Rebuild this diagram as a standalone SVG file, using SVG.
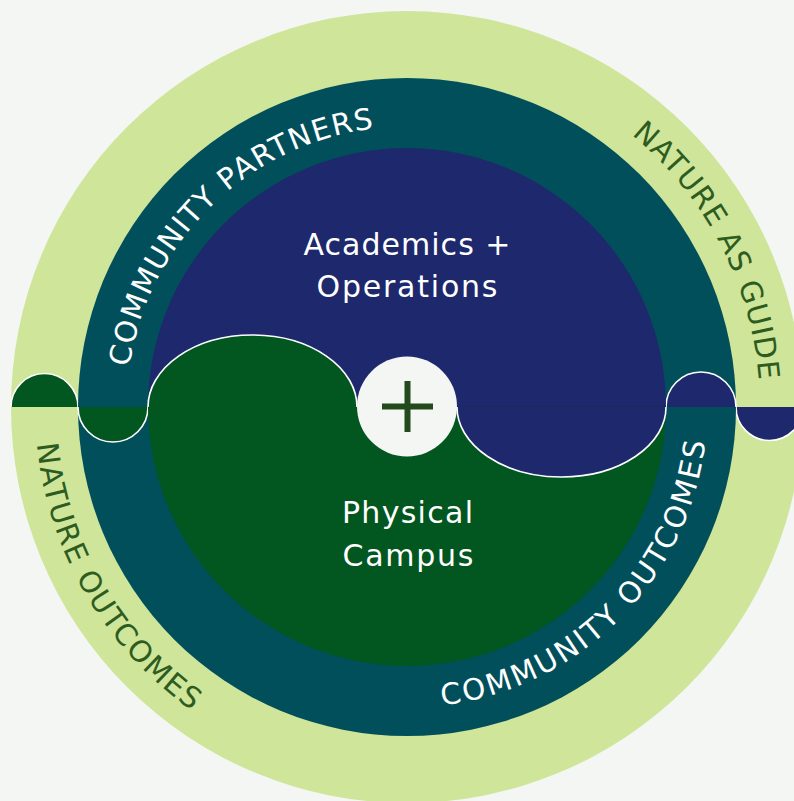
<svg xmlns="http://www.w3.org/2000/svg" width="794" height="801" viewBox="0 0 794 801">
<style>
.ringtxt{font-family:"DejaVu Sans","Noto Sans",sans-serif;font-size:29.5px;text-anchor:middle}
.light{fill:#ffffff}
.dark{fill:#2e5c1f}
.core{font-family:"DejaVu Sans","Noto Sans",sans-serif;font-size:30px;fill:#ffffff;text-anchor:middle}
.edge{fill:none;stroke:#ffffff;stroke-width:1.6}
.green{fill:#02561f}
.navy{fill:#1e286c}
</style>
<defs>
<path id="pPartners" d="M 190.3 584.4 A 280 280 0 0 1 589.6 194.7"/>
<path id="pGuide" d="M 272.2 80.8 A 353 353 0 0 1 596.4 704.9"/>
<path id="pNatOut" d="M 192.6 103.0 A 372 372 0 0 0 565.4 743.6"/>
<path id="pComOut" d="M 214.3 637.0 A 300 300 0 0 0 636.7 214.0"/>
</defs>
<rect width="794" height="801" fill="#f4f6f3"/>

<g id="nature-ring">
<circle cx="407" cy="407" r="396" fill="#cfe59a"/>
<path class="green" d="M 11 407 A 33.5 33.5 0 0 1 78 407 Z"/>
<path class="edge" d="M 11 407 A 33.5 33.5 0 0 1 78 407"/>
<path class="navy" d="M 736 407 A 33.5 33.5 0 0 0 803 407 Z"/>
<path class="edge" d="M 736 407 A 33.5 33.5 0 0 0 803 407"/>
<text class="ringtxt dark"><textPath href="#pGuide" startOffset="50%" textLength="284" lengthAdjust="spacing">NATURE AS GUIDE</textPath></text>
<text class="ringtxt dark"><textPath href="#pNatOut" startOffset="50%" textLength="318" lengthAdjust="spacing">NATURE OUTCOMES</textPath></text>
</g>

<g id="community-ring">
<circle cx="407" cy="407" r="329" fill="#024f5c"/>
<path class="green" d="M 78 407 A 35 35 0 0 0 148 407 Z"/>
<path class="edge" d="M 78 407 A 35 35 0 0 0 148 407"/>
<path class="navy" d="M 666 407 A 35 35 0 0 1 736 407 Z"/>
<path class="edge" d="M 666 407 A 35 35 0 0 1 736 407"/>
<text class="ringtxt light"><textPath href="#pPartners" startOffset="50%" textLength="367" lengthAdjust="spacing">COMMUNITY PARTNERS</textPath></text>
<text class="ringtxt light"><textPath href="#pComOut" startOffset="50%" textLength="402" lengthAdjust="spacing">COMMUNITY OUTCOMES</textPath></text>
</g>

<g id="core">
<path class="navy" d="M 148 407 A 259 259 0 0 1 666 407 Z"/>
<path class="green" d="M 148 407 A 259 259 0 0 0 666 407 Z"/>
<line x1="148" y1="406.5" x2="666" y2="406.5" stroke="#0b2f3a" stroke-opacity="0.3" stroke-width="1"/>
</g>

<g id="academics-operations">
<path class="navy" d="M 457 407 A 104.5 70 0 0 0 666 407 Z"/>
<path class="edge" d="M 457 407 A 104.5 70 0 0 0 666 407"/>
<text class="core" x="407" y="255" textLength="207" lengthAdjust="spacing">Academics +</text>
<text class="core" x="407" y="297" textLength="181" lengthAdjust="spacing">Operations</text>
</g>

<g id="physical-campus">
<path class="green" d="M 148 407 A 104.5 72 0 0 1 357 407 Z"/>
<path class="edge" d="M 148 407 A 104.5 72 0 0 1 357 407"/>
<text class="core" x="407.5" y="523" textLength="131" lengthAdjust="spacing">Physical</text>
<text class="core" x="408" y="566" textLength="131" lengthAdjust="spacing">Campus</text>
</g>

<g id="plus">
<circle cx="407" cy="406.5" r="50" fill="#f4f6f3"/>
<line x1="382" y1="406.5" x2="433" y2="406.5" stroke="#234a1c" stroke-width="6"/>
<line x1="407.5" y1="381" x2="407.5" y2="432" stroke="#234a1c" stroke-width="6"/>
</g>
</svg>
